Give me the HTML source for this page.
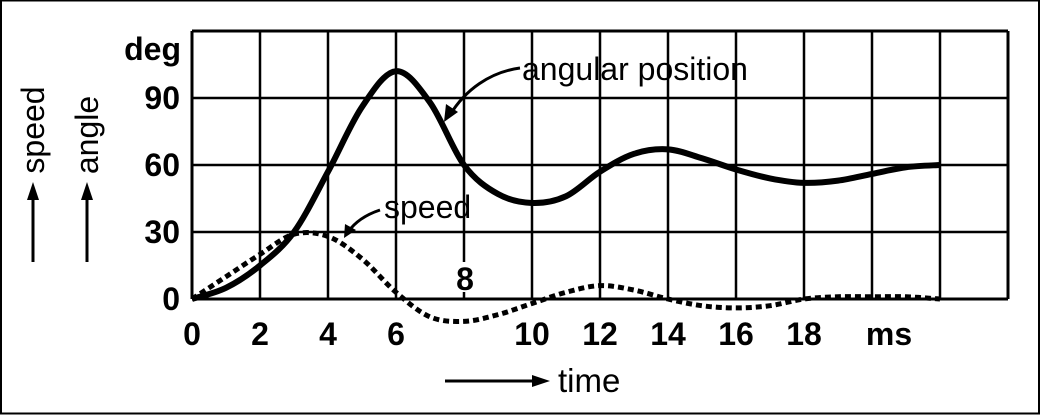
<!DOCTYPE html>
<html><head><meta charset="utf-8"><style>
html,body{margin:0;padding:0;background:#fff;}
svg{display:block;font-family:"Liberation Sans",Arial,sans-serif;}
</style></head><body>
<svg id="chart" width="1042" height="416" viewBox="0 0 1042 416">
<rect x="1" y="0.5" width="1038" height="413" fill="none" stroke="#000" stroke-width="2"/>
<g id="grid"></g>
<g id="series"></g>
<g id="labels"></g>
<text x="181" y="60" font-size="32" font-weight="bold" text-anchor="end">deg</text>
<text x="889" y="345" font-size="32" font-weight="bold" text-anchor="middle">ms</text>
<rect x="452" y="262" width="26" height="30" fill="#fff"/>
<text x="465" y="290" font-size="32" font-weight="bold" text-anchor="middle">8</text>
<text x="522" y="80" font-size="32">angular position</text>
<path d="M520,68 C490,72 465,90 450,115" fill="none" stroke="#000" stroke-width="3"/>
<polygon points="444,122 446,104 458,112"/>
<text x="384" y="218" font-size="32">speed</text>
<path d="M380,210 C365,215 355,222 348,232" fill="none" stroke="#000" stroke-width="3"/>
<polygon points="344,238 345,224 356,230"/>
<text transform="translate(44,130) rotate(-90)" font-size="32" text-anchor="middle">speed</text>
<text transform="translate(98,135) rotate(-90)" font-size="32" text-anchor="middle">angle</text>
<line x1="33" y1="262" x2="33" y2="195" stroke="#000" stroke-width="3"/>
<polygon points="33,182 27,200 39,200"/>
<line x1="87" y1="262" x2="87" y2="195" stroke="#000" stroke-width="3"/>
<polygon points="87,182 81,200 93,200"/>
<line x1="445" y1="381" x2="535" y2="381" stroke="#000" stroke-width="3"/>
<polygon points="550,381 532,375 532,387"/>
<text x="558" y="392" font-size="33">time</text>
</svg>
<script>
const times = [0,1,2,3,4,5,6,7,8,9,10,11,12,13,14,15,16,17,18,19,20,21,22];
const angleValues = [0,5,15,30,57,86,102,88,60,47,43,46,57,65,67,63,58,54,52,53,56,59,60];
const speedValues = [0,10,20,29,28,18,3,-8,-10,-7,-2,3,6,4,0,-3,-4,-3,0,1,1,1,0];
const yTicks = [0,30,60,90];
const xTickLabels = [0,2,4,6,10,12,14,16,18];
const NS='http://www.w3.org/2000/svg';
const X0=192, XS=34.0, Y0=299, YS=67/30;
function xs(t){return X0+t*XS;}
function ys(v){return Y0-v*YS;}
function mk(tag,attrs,parent){const e=document.createElementNS(NS,tag);for(const k in attrs)e.setAttribute(k,attrs[k]);parent.appendChild(e);return e;}
const grid=document.getElementById('grid');
for(let t=0;t<=24;t+=2){
  const l=mk('line',{x1:xs(t),x2:xs(t),y1:ys(120),y2:ys(0),stroke:'#000','stroke-width':t===0||t===24?3:2.5},grid);
  
  
}
for(let v=0;v<=120;v+=30){
  const l=mk('line',{x1:xs(0),x2:xs(24),y1:ys(v),y2:ys(v),stroke:'#000','stroke-width':v===0||v===120?3:2.5},grid);
  
  
}
const labels=document.getElementById('labels');
yTicks.forEach(v=>{
  const t=mk('text',{x:180,y:ys(v)+11,'font-size':32,'font-weight':'bold','text-anchor':'end'},labels);
  t.textContent=v;
  
  
});
xTickLabels.forEach(v=>{
  const t=mk('text',{x:xs(v),y:345,'font-size':32,'font-weight':'bold','text-anchor':'middle'},labels);
  t.textContent=v;
  
  
});
function smoothPath(vals){
  const p=times.map((t,i)=>[xs(t),ys(vals[i])]);
  let d='M'+p[0][0]+','+p[0][1];
  for(let i=0;i<p.length-1;i++){
    const p0=p[i-1]||p[i],p1=p[i],p2=p[i+1],p3=p[i+2]||p[i+1];
    const c1=[p1[0]+(p2[0]-p0[0])/6,p1[1]+(p2[1]-p0[1])/6];
    const c2=[p2[0]-(p3[0]-p1[0])/6,p2[1]-(p3[1]-p1[1])/6];
    d+=' C'+c1[0]+','+c1[1]+' '+c2[0]+','+c2[1]+' '+p2[0]+','+p2[1];
  }
  return d;
}
const series=document.getElementById('series');
const sp=mk('path',{d:smoothPath(speedValues),fill:'none',stroke:'#000','stroke-width':5,'stroke-dasharray':'6,4'},series);


const an=mk('path',{d:smoothPath(angleValues),fill:'none',stroke:'#000','stroke-width':6},series);


</script>
</body></html>
